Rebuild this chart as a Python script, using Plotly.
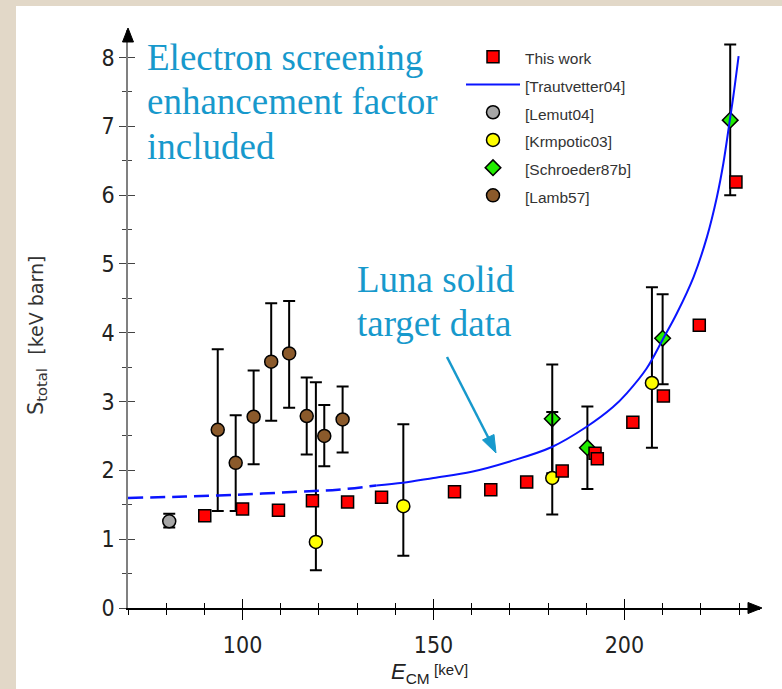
import plotly.graph_objects as go

# ---------------- data ----------------
this_work_x = [90.1, 100.0, 109.4, 118.3, 127.5, 136.4, 155.5, 165.0, 174.4, 183.7, 192.3, 192.9, 202.2, 210.2, 219.6, 229.2]
this_work_y = [1.34, 1.44, 1.42, 1.56, 1.54, 1.61, 1.69, 1.72, 1.83, 1.99, 2.25, 2.17, 2.70, 3.08, 4.11, 6.19]

trautvetter_dash_x = [70, 85, 100, 115, 125, 135]
trautvetter_dash_y = [1.60, 1.62, 1.65, 1.69, 1.72, 1.78]
trautvetter_x = [135, 142, 150, 160, 170, 181, 190, 197, 200.6, 205.8, 210.2, 213.7, 218.1, 221.6, 224.2, 225.9, 227.6, 228.5, 229.9]
trautvetter_y = [1.78, 1.82, 1.89, 1.98, 2.13, 2.34, 2.63, 2.92, 3.12, 3.48, 3.92, 4.28, 4.81, 5.39, 5.97, 6.46, 7.09, 7.43, 8.02]

lemut_x = [80.8]
lemut_y = [1.26]
lemut_hi = [1.37]
lemut_lo = [1.17]

krmpotic_x = [119.2, 142.1, 181.1, 207.2]
krmpotic_y = [0.96, 1.48, 1.89, 3.27]
krmpotic_hi = [3.28, 2.67, 2.85, 4.66]
krmpotic_lo = [0.55, 0.76, 1.36, 2.33]

schroeder_x = [181.1, 190.3, 210.0, 227.7]
schroeder_y = [2.75, 2.33, 3.92, 7.09]
schroeder_hi = [3.54, 2.93, 4.56, 8.19]
schroeder_lo = [1.96, 1.73, 3.25, 6.00]

lamb_x = [93.5, 98.2, 102.9, 107.5, 112.2, 116.8, 121.4, 126.2]
lamb_y = [2.59, 2.11, 2.78, 3.58, 3.70, 2.79, 2.50, 2.74]
lamb_hi = [3.76, 2.80, 3.45, 4.43, 4.46, 3.35, 2.95, 3.22]
lamb_lo = [1.41, 1.41, 2.09, 2.72, 2.91, 2.23, 2.06, 2.26]

x_range = [70, 235.5]
y_range = [0, 8.4]

# ---------------- figure ----------------
SANS = "Liberation Sans, Arial, sans-serif"
COND = "DejaVu Sans Condensed, DejaVu Sans, sans-serif"
SERIF = "Liberation Serif, Times New Roman, serif"
BLUE_TXT = "#1799cc"


def err(y, hi, lo):
    return dict(type="data", symmetric=False,
                array=[h - v for h, v in zip(hi, y)],
                arrayminus=[v - l for l, v in zip(lo, y)],
                color="black", thickness=2, width=6)


def lab(t):
    return '<span style="font-size:15.5px">' + t + '</span>'


mline = dict(color="black", width=1.5)
fig = go.Figure()

fig.add_trace(go.Scatter(x=lamb_x, y=lamb_y, mode="markers", name=lab("[Lamb57]"), legendrank=6,
                         marker=dict(symbol="circle", size=13, color="#8b5a2b", line=mline),
                         error_y=err(lamb_y, lamb_hi, lamb_lo)))
fig.add_trace(go.Scatter(x=schroeder_x, y=schroeder_y, mode="markers", name=lab("[Schroeder87b]"), legendrank=5,
                         marker=dict(symbol="diamond", size=12, color="#22ee00", line=mline),
                         error_y=err(schroeder_y, schroeder_hi, schroeder_lo)))
fig.add_trace(go.Scatter(x=krmpotic_x, y=krmpotic_y, mode="markers", name=lab("[Krmpotic03]"), legendrank=4,
                         marker=dict(symbol="circle", size=13, color="#ffff00", line=mline),
                         error_y=err(krmpotic_y, krmpotic_hi, krmpotic_lo)))
fig.add_trace(go.Scatter(x=lemut_x, y=lemut_y, mode="markers", name=lab("[Lemut04]"), legendrank=3,
                         marker=dict(symbol="circle", size=13, color="#a6a6a6", line=mline),
                         error_y=err(lemut_y, lemut_hi, lemut_lo)))
fig.add_trace(go.Scatter(x=this_work_x, y=this_work_y, mode="markers", name=lab("This work"), legendrank=1,
                         marker=dict(symbol="square", size=12, color="#ff0000", line=mline)))
fig.add_trace(go.Scatter(x=trautvetter_dash_x, y=trautvetter_dash_y, mode="lines", showlegend=False,
                         line=dict(color="#0a14ff", width=2.5, dash="15px,7px", shape="spline")))
fig.add_trace(go.Scatter(x=trautvetter_x, y=trautvetter_y, mode="lines", name=lab("[Trautvetter04]"), legendrank=2,
                         line=dict(color="#0a14ff", width=2, shape="spline")))
# empty trace so the overlay axes (crossing ticks) exist
fig.add_trace(go.Scatter(x=[], y=[], xaxis="x2", yaxis="y2", showlegend=False, hoverinfo="skip"))

L, R, T, B = 128, 22, 30, 81
W, H = 782, 689
pw, ph = W - L - R, H - T - B


def px(xp):
    return (xp - L) / pw


def py(yp):
    return (H - B - yp) / ph


def path(points):
    return "M " + " L ".join("%.5f,%.5f" % (px(a), py(b)) for a, b in points) + " Z"


tickfont = dict(family=COND, size=23, color="#222222")

shapes = [
    dict(type="rect", xref="paper", yref="paper", layer="below",
         x0=px(16), x1=px(800), y0=py(720), y1=py(6),
         fillcolor="white", line=dict(width=0)),
    # axis arrow heads
    dict(type="path", xref="paper", yref="paper", path=path([(L, 28), (L - 5.5, 42), (L + 5.5, 42)]),
         fillcolor="black", line=dict(color="black", width=1)),
    dict(type="path", xref="paper", yref="paper",
         path=path([(W - R + 2, H - B), (W - R - 12, H - B - 5.5), (W - R - 12, H - B + 5.5)]),
         fillcolor="black", line=dict(color="black", width=1)),
    # "Luna solid target data" arrow
    dict(type="line", xref="paper", yref="paper", x0=px(447), y0=py(357), x1=px(490), y1=py(441),
         line=dict(color=BLUE_TXT, width=2.5)),
    dict(type="path", xref="paper", yref="paper",
         path=path([(496, 453), (482.5, 440), (494, 434.5)]),
         fillcolor=BLUE_TXT, line=dict(color=BLUE_TXT, width=1)),
]

fig.update_layout(
    width=W, height=H,
    margin=dict(l=L, r=R, t=T, b=B, pad=0),
    paper_bgcolor="#e2d8c8",
    plot_bgcolor="white",
    showlegend=True,
    legend=dict(x=px(461), y=py(38), xanchor="left", yanchor="top",
                bgcolor="rgba(0,0,0,0)", borderwidth=0, itemwidth=54,
                font=dict(family=SANS, size=19, color="#333333"),
                tracegroupgap=0),
    xaxis=dict(range=x_range, showgrid=False, zeroline=False, showline=True, linecolor="black", linewidth=1.5,
               ticks="outside", ticklen=10, tickwidth=1.3, tickcolor="black", dtick=50, tick0=0,
               minor=dict(ticks="outside", ticklen=5, dtick=10, tick0=0, tickcolor="black", tickwidth=1.2),
               tickfont=tickfont, ticklabelstandoff=6),
    yaxis=dict(range=y_range, showgrid=False, zeroline=False, showline=True, linecolor="#808080", linewidth=1.5,
               ticks="outside", ticklen=7, tickwidth=1.3, tickcolor="#444444", dtick=1, tick0=0,
               minor=dict(ticks="outside", ticklen=4, dtick=0.5, tick0=0, tickcolor="#444444", tickwidth=1.2),
               tickfont=tickfont),
    xaxis2=dict(range=x_range, overlaying="x", anchor="y", side="bottom", showgrid=False, zeroline=False,
                showline=False, showticklabels=False, ticks="inside", ticklen=9, tickwidth=1.3, tickcolor="black",
                dtick=50, tick0=0,
                minor=dict(ticks="inside", ticklen=5, dtick=10, tick0=0, tickcolor="black", tickwidth=1.2)),
    yaxis2=dict(range=y_range, overlaying="y", anchor="x", side="left", showgrid=False, zeroline=False,
                showline=False, showticklabels=False, ticks="inside", ticklen=7, tickwidth=1.3, tickcolor="#444444",
                dtick=1, tick0=0,
                minor=dict(ticks="inside", ticklen=4, dtick=0.5, tick0=0, tickcolor="#444444", tickwidth=1.2)),
    shapes=shapes,
)

ann = []
# axis titles
ann.append(dict(x=px(389), y=py(673), xref="paper", yref="paper", xanchor="left", yanchor="middle",
                showarrow=False, text="<i>E</i><sub>CM</sub>",
                font=dict(family=SANS, size=22, color="#222222")))
ann.append(dict(x=px(432), y=py(669), xref="paper", yref="paper", xanchor="left", yanchor="middle",
                showarrow=False, text="[keV]",
                font=dict(family=SANS, size=15, color="#222222")))
ann.append(dict(x=px(37), y=py(336), xref="paper", yref="paper", xanchor="center", yanchor="middle",
                showarrow=False, textangle=-90,
                text='S<sub>total</sub>  <span style="font-size:19px">[keV barn]</span>',
                font=dict(family="DejaVu Sans, sans-serif", size=21, color="#333333")))
# blue text annotations
for txt, yb in [("Electron screening", 57), ("enhancement factor", 101), ("included", 146)]:
    ann.append(dict(x=px(145), y=py(yb), xref="paper", yref="paper", xanchor="left", yanchor="middle",
                    showarrow=False, text=txt, font=dict(family=SERIF, size=37, color=BLUE_TXT)))
for txt, yb in [("Luna solid", 279), ("target data", 323)]:
    ann.append(dict(x=px(355), y=py(yb), xref="paper", yref="paper", xanchor="left", yanchor="middle",
                    showarrow=False, text=txt, font=dict(family=SERIF, size=37, color=BLUE_TXT)))
fig.update_layout(annotations=ann)

fig.write_html("out.html")
